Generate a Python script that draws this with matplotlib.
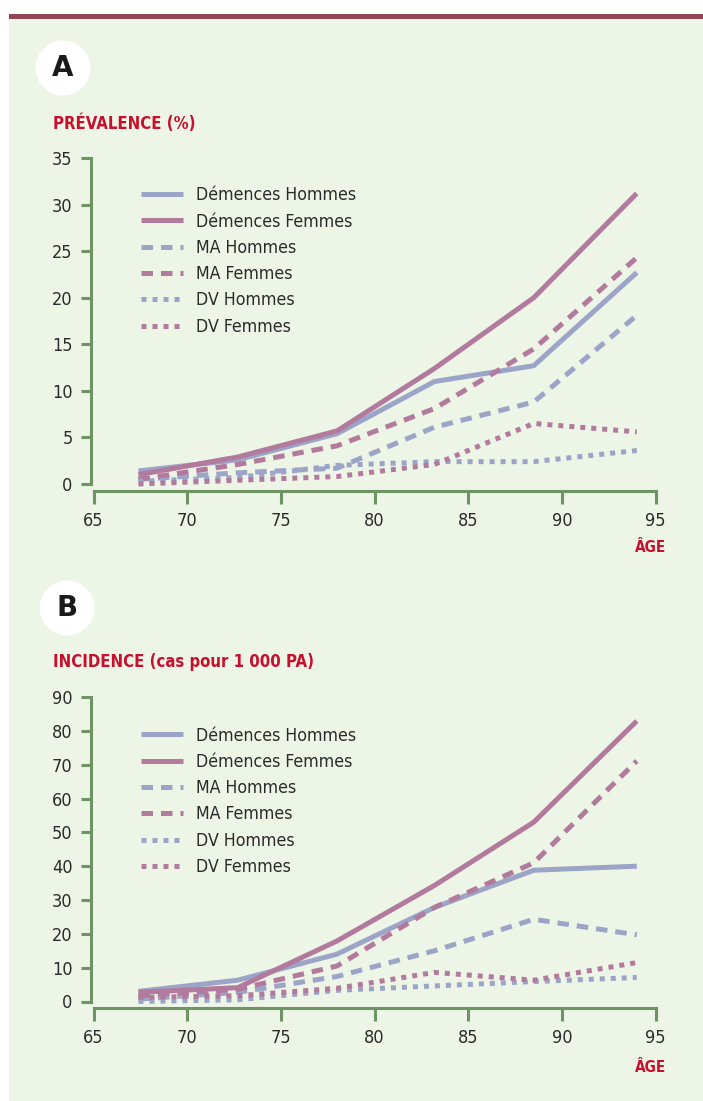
import matplotlib
matplotlib.use("Agg")
import matplotlib.pyplot as plt
from matplotlib.patches import Rectangle, Ellipse

# ages (drawn positions of the age classes)
ages = [67.4, 72.7, 78.0, 83.2, 88.5, 94.0]

# A - prevalence (%)
prev_dem_h = [1.4, 2.6, 5.4, 11.0, 12.7, 22.7]
prev_dem_f = [1.0, 2.9, 5.7, 12.4, 20.0, 31.2]
prev_ma_h = [0.5, 1.2, 1.7, 6.1, 8.8, 18.1]
prev_ma_f = [0.5, 2.1, 4.1, 8.1, 14.5, 24.3]
prev_dv_h = [0.3, 0.7, 2.0, 2.4, 2.4, 3.6]
prev_dv_f = [0.0, 0.4, 0.8, 2.1, 6.5, 5.6]

# B - incidence (cas pour 1 000 PA)
inc_dem_h = [3.0, 6.3, 14.0, 27.8, 38.8, 40.0]
inc_dem_f = [2.7, 4.1, 17.9, 34.3, 53.0, 82.9]
inc_ma_h = [0.7, 2.7, 7.4, 15.0, 24.3, 19.7]
inc_ma_f = [1.7, 3.6, 10.5, 27.8, 41.0, 71.1]
inc_dv_h = [0.0, 0.5, 3.3, 4.6, 5.9, 7.1]
inc_dv_f = [1.2, 1.7, 3.9, 8.6, 6.3, 11.5]

labels = ["Démences Hommes", "Démences Femmes", "MA Hommes", "MA Femmes",
          "DV Hommes", "DV Femmes"]

BLUE = "#9ca4c8"
PINK = "#b27a9c"
GREEN = "#6e9464"
RED = "#c8102e"
TXT = "#2b2b2b"
BG = "#edf5e6"

plt.rcParams['font.family'] = ['DejaVu Sans']
plt.rcParams['font.stretch'] = 'condensed'

W, H = 703, 1101
fig = plt.figure(figsize=(W / 100, H / 100), dpi=100)
fig.patch.set_facecolor("white")

# green panel + maroon top rule
fig.patches.append(Rectangle((9 / W, 0), 1 - 9 / W, 1 - 19 / H, transform=fig.transFigure,
                             facecolor=BG, edgecolor="none", zorder=-10))
fig.patches.append(Rectangle((9 / W, 1 - 19 / H), 1 - 9 / W, 5 / H, transform=fig.transFigure,
                             facecolor="#924655", edgecolor="none", zorder=-10))

styles = [("-", BLUE), ("-", PINK), ((0, (2.3, 1.6)), BLUE), ((0, (2.3, 1.6)), PINK),
          ((0, (1, 1.2)), BLUE), ((0, (1, 1.2)), PINK)]


def panel(rect, series, ymax, ystep, title, letter, circ_xy, title_y, age_y, leg_anchor):
    ax = fig.add_axes(rect)
    ax.set_facecolor("none")
    ax.set_zorder(5)
    for vals, (ls, col), lab in zip(series, styles, labels):
        ax.plot(ages, vals, linestyle=ls, color=col, lw=3.6, label=lab,
                dash_capstyle="butt", solid_capstyle="butt", clip_on=False)
    ax.set_xlim(65, 95)
    ax.set_ylim(0, ymax)
    ax.set_xticks(range(65, 96, 5))
    ax.set_yticks(range(0, ymax + 1, ystep))
    for s in ["top", "right"]:
        ax.spines[s].set_visible(False)
    ax.spines["left"].set_position(("outward", 2))
    ax.spines["bottom"].set_position(("outward", 5))
    for s in ["left", "bottom"]:
        ax.spines[s].set_color(GREEN)
        ax.spines[s].set_linewidth(2.2)
    ax.tick_params(axis="y", colors=GREEN, length=7, width=2.2, labelcolor=TXT,
                   labelsize=13, pad=6)
    ax.tick_params(axis="x", colors=GREEN, length=9, width=2.2, labelcolor=TXT,
                   labelsize=13, pad=6)
    ax.legend(loc="upper left", bbox_to_anchor=leg_anchor, frameon=False,
              fontsize=12.7, handlelength=2.35, handletextpad=0.75, labelspacing=0.47,
              labelcolor=TXT)
    fig.text(53 / W, 1 - title_y / H, title, color=RED, fontsize=12,
             fontweight="bold", va="center", ha="left")
    fig.text(666 / W, 1 - age_y / H, "ÂGE", color=RED, fontsize=11,
             fontweight="bold", va="center", ha="right")
    cx, cy = circ_xy
    fig.patches.append(Ellipse((cx / W, 1 - cy / H), 55 / W, 55 / H,
                               transform=fig.transFigure, facecolor="white",
                               edgecolor="none", zorder=1))
    fig.text(cx / W, 1 - cy / H, letter, color="#1a1a1a", fontsize=20,
             fontweight="bold", va="center", ha="center", stretch="normal")
    return ax


panel([93.5 / W, 1 - 484 / H, 562 / W, 326 / H],
      [prev_dem_h, prev_dem_f, prev_ma_h, prev_ma_f, prev_dv_h, prev_dv_f],
      35, 5, "PRÉVALENCE (%)", "A", (63, 68), 124, 548, (0.057, 0.962))

panel([93.5 / W, 1 - 1001.5 / H, 562 / W, 304.5 / H],
      [inc_dem_h, inc_dem_f, inc_ma_h, inc_ma_f, inc_dv_h, inc_dv_f],
      90, 10, "INCIDENCE (cas pour 1 000 PA)", "B", (67, 608), 662, 1068, (0.057, 0.955))

fig.savefig("out.png", dpi=100, facecolor=fig.get_facecolor())
